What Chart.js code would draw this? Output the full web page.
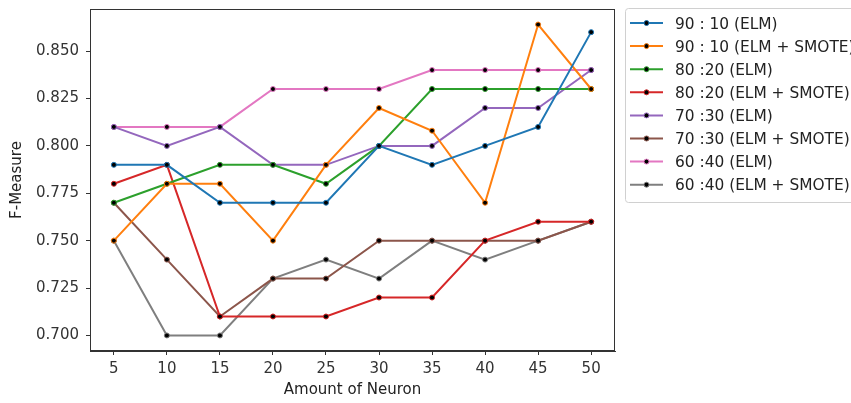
<!DOCTYPE html>
<html>
<head>
<meta charset="utf-8">
<script src="https://cdn.jsdelivr.net/npm/chart.js@4/dist/chart.umd.min.js"></script>
<style>
  body { margin: 0; background: #fff; }
  #wrap { width: 851px; height: 403px; }
</style>
</head>
<body>
<div id="wrap"><canvas id="graph" width="851" height="403"></canvas></div>
<script>
var neurons = [5, 10, 15, 20, 25, 30, 35, 40, 45, 50];
var yTicks = [0.700, 0.725, 0.750, 0.775, 0.800, 0.825, 0.850];

var elm9010   = [0.79, 0.79, 0.77, 0.77, 0.77, 0.80, 0.79, 0.80, 0.81, 0.86];
var smote9010 = [0.75, 0.78, 0.78, 0.75, 0.79, 0.82, 0.808, 0.77, 0.864, 0.83];
var elm8020   = [0.77, 0.78, 0.79, 0.79, 0.78, 0.80, 0.83, 0.83, 0.83, 0.83];
var smote8020 = [0.78, 0.79, 0.71, 0.71, 0.71, 0.72, 0.72, 0.75, 0.76, 0.76];
var elm7030   = [0.81, 0.80, 0.81, 0.79, 0.79, 0.80, 0.80, 0.82, 0.82, 0.84];
var smote7030 = [0.77, 0.74, 0.71, 0.73, 0.73, 0.75, 0.75, 0.75, 0.75, 0.76];
var elm6040   = [0.81, 0.81, 0.81, 0.83, 0.83, 0.83, 0.84, 0.84, 0.84, 0.84];
var smote6040 = [0.75, 0.70, 0.70, 0.73, 0.74, 0.73, 0.75, 0.74, 0.75, 0.76];

var labels = ['90 : 10 (ELM)', '90 : 10 (ELM + SMOTE)', '80 :20 (ELM)', '80 :20 (ELM + SMOTE)',
              '70 :30 (ELM)', '70 :30 (ELM + SMOTE)', '60 :40 (ELM)', '60 :40 (ELM + SMOTE)'];
var colors = ['#1f77b4', '#ff7f0e', '#2ca02c', '#d62728', '#9467bd', '#8c564b', '#e377c2', '#7f7f7f'];
var series = [elm9010, smote9010, elm8020, smote8020, elm7030, smote7030, elm6040, smote6040];

var font = "'DejaVu Sans', sans-serif";

var makeSet = function(i){
  return {
    label: labels[i],
    data: neurons.map(function(n, k){ return {x: n, y: series[i][k]}; }),
    borderColor: colors[i],
    backgroundColor: colors[i],
    borderWidth: 2,
    tension: 0,
    fill: false,
    // black dot with coloured rim, like matplotlib '.'
    pointRadius: 2.5,
    pointBorderWidth: 1,
    pointBorderColor: colors[i],
    pointBackgroundColor: '#000',
    pointHoverRadius: 2.5
  };
};

var frameAndLegend = {
  id: 'frameAndLegend',
  afterDraw: function(chart){
    var ctx = chart.ctx, a = chart.chartArea;
    ctx.save();
    ctx.strokeStyle = '#333';
    ctx.lineWidth = 1;
    ctx.strokeRect(a.left + 0.5, a.top + 0.5, a.right - a.left - 1, a.bottom - a.top - 1);

    // legend box outside the axes
    var bx = 625.5, by = 8.5, bw = 240, bh = 194;
    ctx.strokeStyle = '#d0d0d0';
    ctx.fillStyle = 'rgba(255,255,255,0.8)';
    ctx.beginPath();
    ctx.roundRect(bx, by, bw, bh, 3);
    ctx.fill();
    ctx.stroke();

    ctx.font = '15.4px ' + font;
    ctx.textBaseline = 'middle';
    for (var i = 0; i < labels.length; i++) {
      var y = 23 + i * 23.1;
      ctx.strokeStyle = colors[i];
      ctx.lineWidth = 2;
      ctx.beginPath();
      ctx.moveTo(630, y);
      ctx.lineTo(663, y);
      ctx.stroke();
      ctx.beginPath();
      ctx.arc(646.5, y, 2.5, 0, Math.PI * 2);
      ctx.fillStyle = '#000';
      ctx.fill();
      ctx.lineWidth = 1;
      ctx.stroke();
      ctx.fillStyle = '#222';
      ctx.fillText(labels[i], 675, y + 1.5);
    }
    ctx.restore();
  }
};

window.onload = function(){
  var ctx = document.getElementById('graph').getContext('2d');
  new Chart(ctx, {
    type: 'line',
    data: { datasets: series.map(function(s, i){ return makeSet(i); }) },
    options: {
      responsive: false,
      animation: false,
      layout: { padding: { left: 0, top: 9, right: 236, bottom: 0 } },
      plugins: { legend: { display: false }, tooltip: { enabled: false } },
      scales: {
        x: {
          type: 'linear',
          min: 2.75, max: 52.25,
          afterBuildTicks: function(s){ s.ticks = neurons.map(function(v){ return {value: v}; }); },
          afterFit: function(s){ s.height = 52; s.paddingLeft = 0; s.paddingRight = 0; },
          grid: { drawOnChartArea: false, tickLength: 4, color: '#333' },
          border: { color: '#333' },
          ticks: { color: '#333', font: { family: font, size: 15 }, padding: 5 },
          title: { display: true, text: 'Amount of Neuron', color: '#222',
                   font: { family: font, size: 15 }, padding: { top: 1 } }
        },
        y: {
          min: 0.6918, max: 0.8722,
          afterBuildTicks: function(s){ s.ticks = yTicks.map(function(v){ return {value: v}; }); },
          afterFit: function(s){ s.width = 90; s.paddingTop = 0; s.paddingBottom = 0; },
          grid: { drawOnChartArea: false, tickLength: 4, color: '#333' },
          border: { color: '#333' },
          ticks: { color: '#333', font: { family: font, size: 15 }, padding: 7,
                   callback: function(v){ return v.toFixed(3); } },
          title: { display: true, text: 'F-Measure', color: '#222',
                   font: { family: font, size: 15 }, padding: { top: 8, bottom: 0 } }
        }
      }
    },
    plugins: [frameAndLegend]
  });
};
</script>
</body>
</html>
